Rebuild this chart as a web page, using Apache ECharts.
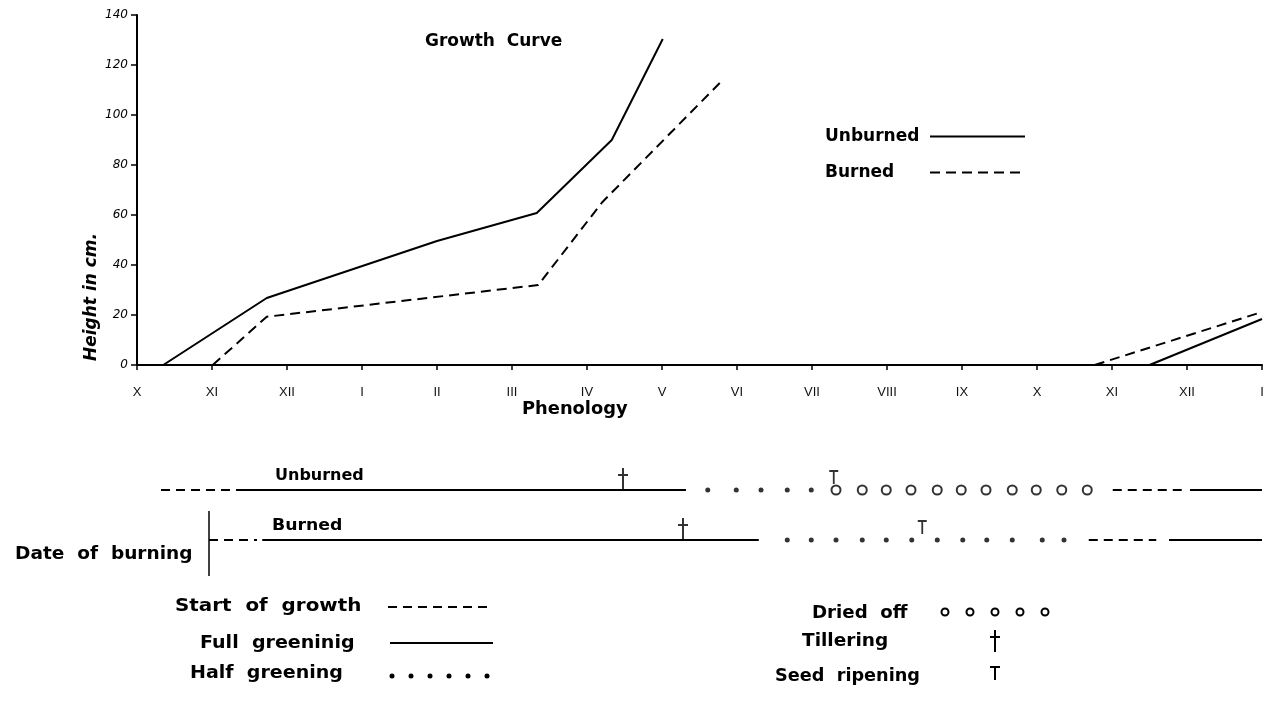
<!DOCTYPE html>
<html>
<head>
<meta charset="utf-8">
<script src="https://cdn.jsdelivr.net/npm/echarts@6/dist/echarts.min.js"></script>
<style>
  html, body { margin: 0; padding: 0; background: #fff; }
  #chart { width: 1268px; height: 703px; }
</style>
</head>
<body>
<div id="chart"></div>
<script>
// month ticks, from October to the January of the year after
var months = ['X', 'XI', 'XII', 'I', 'II', 'III', 'IV', 'V', 'VI', 'VII', 'VIII', 'IX', 'X', 'XI', 'XII', 'I'];

// growth curve: [month index, height in cm]
var unburnedYear1 = [[0.35, 0], [1.73, 26.8], [4.0, 49.6], [5.33, 60.8], [6.33, 90], [7.01, 130.4]];
var unburnedYear2 = [[13.5, 0], [15, 18.4]];
var burnedYear1 = [[1.01, 0], [1.73, 19.3], [5.35, 32], [6.2, 65], [7.77, 112.8]];
var burnedYear2 = [[12.77, 0], [15, 21.2]];

// phenology, unburned row: [from, to] periods and single dates
var unbStart = [[0.32, 1.27], [13.01, 13.93]];
var unbFull = [[1.32, 7.32], [14.04, 15.0]];
var unbHalf = [7.61, 7.99, 8.32, 8.67, 8.99];
var unbDried = [9.32, 9.67, 9.99, 10.32, 10.67, 10.99, 11.32, 11.67, 11.99, 12.33, 12.67];
var unbTiller = [6.48];
var unbSeed = [9.29];

// phenology, burned row
var burStart = [[0.96, 1.6], [12.69, 13.59]];
var burFull = [[1.67, 8.29], [13.76, 15.0]];
var burHalf = [8.67, 8.99, 9.32, 9.67, 9.99, 10.33, 10.67, 11.01, 11.33, 11.67, 12.07, 12.36];
var burTiller = [7.28];
var burSeed = [10.47];
var burningDate = 0.96;

var ROW_UNB = 2, ROW_BUR = 1;
var FONT = 'DejaVu Sans';

function segs(list, row) {
    return list.map(function (s) { return { coords: [[s[0], row], [s[1], row]] }; });
}
function pts(list, row) {
    return list.map(function (x) { return [x, row]; });
}

var crossPath = 'path://M4,0h2v22h-2z M0,6h10v2h-10z';
var teePath = 'path://M0,0h10v2h-10z M4,0h2v14h-2z';

// handwritten lettering is wider than the font, so stretch it a bit
function txt(s, x, y, size, sx) {
    return {
        type: 'text', x: x, y: y, scaleX: sx || 1,
        style: { text: s, fontFamily: FONT, fontSize: size, fontWeight: 'bold', fill: '#000',
                 align: 'left', verticalAlign: 'middle' }
    };
}

var dom = document.getElementById('chart');
var myChart = echarts.init(dom);

var graphic = [
    txt('Growth  Curve', 425, 42, 17),
    txt('Phenology', 522, 410, 17, 1.05),
    txt('Unburned', 275, 476, 16),
    txt('Burned', 272, 526, 16, 1.08),
    txt('Date  of  burning', 15, 555, 17, 1.09),
    txt('Start  of  growth', 175, 607, 17, 1.17),
    txt('Full  greeninig', 200, 644, 17, 1.12),
    txt('Half  greening', 190, 674, 17, 1.12),
    txt('Dried  off', 812, 614, 17, 1.07),
    txt('Tillering', 802, 642, 17, 1.09),
    txt('Seed  ripening', 775, 677, 17, 1.04),
    {
        type: 'text', x: 92, y: 297, rotation: Math.PI / 2,
        style: { text: 'Height in cm.', fontFamily: FONT, fontSize: 17, fontWeight: 'bold', fontStyle: 'italic',
                 fill: '#000', align: 'center', verticalAlign: 'middle' }
    },
    // bottom legend keys
    { type: 'line', shape: { x1: 388, y1: 607, x2: 493, y2: 607 }, style: { stroke: '#000', lineWidth: 2, lineDash: [9, 6] } },
    { type: 'line', shape: { x1: 390, y1: 643, x2: 493, y2: 643 }, style: { stroke: '#000', lineWidth: 2 } },
    { type: 'rect', shape: { x: 994, y: 630, width: 2, height: 22 }, style: { fill: '#000' } },
    { type: 'rect', shape: { x: 990, y: 636, width: 10, height: 2 }, style: { fill: '#000' } },
    { type: 'rect', shape: { x: 990, y: 666, width: 10, height: 2 }, style: { fill: '#000' } },
    { type: 'rect', shape: { x: 994, y: 666, width: 2, height: 14 }, style: { fill: '#000' } }
];
[392, 411, 430, 449, 468, 487].forEach(function (x) {
    graphic.push({ type: 'circle', shape: { cx: x, cy: 676, r: 2.5 }, style: { fill: '#000' } });
});
[945, 970, 995, 1020, 1045].forEach(function (x) {
    graphic.push({ type: 'circle', shape: { cx: x, cy: 612, r: 3.5 }, style: { fill: '#fff', stroke: '#000', lineWidth: 2 } });
});

var solid = { color: '#000', width: 2, type: 'solid' };
var dashed = { color: '#000', width: 2, type: [10, 6] };

var option = {
    animation: false,
    backgroundColor: '#fff',
    color: ['#000'],
    legend: {
        data: ['Unburned', 'Burned'],
        orient: 'vertical',
        left: 820,
        top: 123,
        itemWidth: 95,
        itemHeight: 14,
        itemGap: 19,
        align: 'right',
        selectedMode: false,
        itemStyle: { opacity: 0 },
        formatter: '{a|{name}}',
        textStyle: {
            color: '#000',
            rich: { a: { fontFamily: FONT, fontSize: 17, fontWeight: 'bold', color: '#000', width: 100, align: 'left' } }
        }
    },
    grid: [
        { left: 137, right: 6, top: 15, height: 350 },
        { left: 137, right: 6, top: 440, height: 150 }
    ],
    xAxis: [
        {
            type: 'value', gridIndex: 0, min: 0, max: 15, interval: 1,
            axisLine: { lineStyle: { color: '#000', width: 2 } },
            axisTick: { length: 5, lineStyle: { color: '#000', width: 1.5 } },
            splitLine: { show: false },
            axisLabel: {
                margin: 21, fontFamily: 'Liberation Sans', fontSize: 13, color: '#111',
                formatter: function (v) { return months[v]; }
            }
        },
        { type: 'value', gridIndex: 1, min: 0, max: 15, show: false }
    ],
    yAxis: [
        {
            type: 'value', gridIndex: 0, min: 0, max: 140, interval: 20,
            axisLine: { show: true, lineStyle: { color: '#000', width: 2 } },
            axisTick: { show: true, length: 6, lineStyle: { color: '#000', width: 1.5 } },
            splitLine: { show: false },
            axisLabel: { margin: 9, fontFamily: FONT, fontSize: 12, fontStyle: 'italic', color: '#000' }
        },
        { type: 'value', gridIndex: 1, min: 0, max: 3, show: false }
    ],
    graphic: graphic,
    series: [
        { name: 'Unburned', type: 'line', data: unburnedYear1, symbol: 'none', lineStyle: solid, silent: true },
        { name: 'Unburned', type: 'line', data: unburnedYear2, symbol: 'none', lineStyle: solid, silent: true },
        { name: 'Burned', type: 'line', data: burnedYear1, symbol: 'none', lineStyle: dashed, silent: true },
        { name: 'Burned', type: 'line', data: burnedYear2, symbol: 'none', lineStyle: dashed, silent: true },
        {
            type: 'lines', coordinateSystem: 'cartesian2d', xAxisIndex: 1, yAxisIndex: 1, silent: true,
            data: segs(unbStart, ROW_UNB).concat(segs(burStart, ROW_BUR)),
            lineStyle: { color: '#000', width: 2, type: [9, 6], opacity: 1 }
        },
        {
            type: 'lines', coordinateSystem: 'cartesian2d', xAxisIndex: 1, yAxisIndex: 1, silent: true,
            data: segs(unbFull, ROW_UNB).concat(segs(burFull, ROW_BUR)),
            lineStyle: { color: '#000', width: 2, opacity: 1 }
        },
        {
            type: 'lines', coordinateSystem: 'cartesian2d', xAxisIndex: 1, yAxisIndex: 1, silent: true,
            data: [{ coords: [[burningDate, 1.58], [burningDate, 0.28]] }],
            lineStyle: { color: '#000', width: 1.5, opacity: 1 }
        },
        {
            type: 'scatter', xAxisIndex: 1, yAxisIndex: 1, silent: true,
            data: pts(unbHalf, ROW_UNB).concat(pts(burHalf, ROW_BUR)),
            symbol: 'circle', symbolSize: 5, itemStyle: { color: '#000' }
        },
        {
            type: 'scatter', xAxisIndex: 1, yAxisIndex: 1, silent: true,
            data: pts(unbDried, ROW_UNB),
            symbol: 'circle', symbolSize: 9, itemStyle: { color: '#fff', borderColor: '#000', borderWidth: 2 }
        },
        {
            type: 'scatter', xAxisIndex: 1, yAxisIndex: 1, silent: true,
            data: pts(unbTiller, ROW_UNB).concat(pts(burTiller, ROW_BUR)),
            symbol: crossPath, symbolSize: [10, 22], symbolOffset: [0, -11], itemStyle: { color: '#000' }
        },
        {
            type: 'scatter', xAxisIndex: 1, yAxisIndex: 1, silent: true,
            data: pts(unbSeed, ROW_UNB).concat(pts(burSeed, ROW_BUR)),
            symbol: teePath, symbolSize: [9, 14], symbolOffset: [0, -13], itemStyle: { color: '#000' }
        }
    ]
};

myChart.setOption(option);
window.onresize = function () { myChart.resize(); };
</script>
</body>
</html>
